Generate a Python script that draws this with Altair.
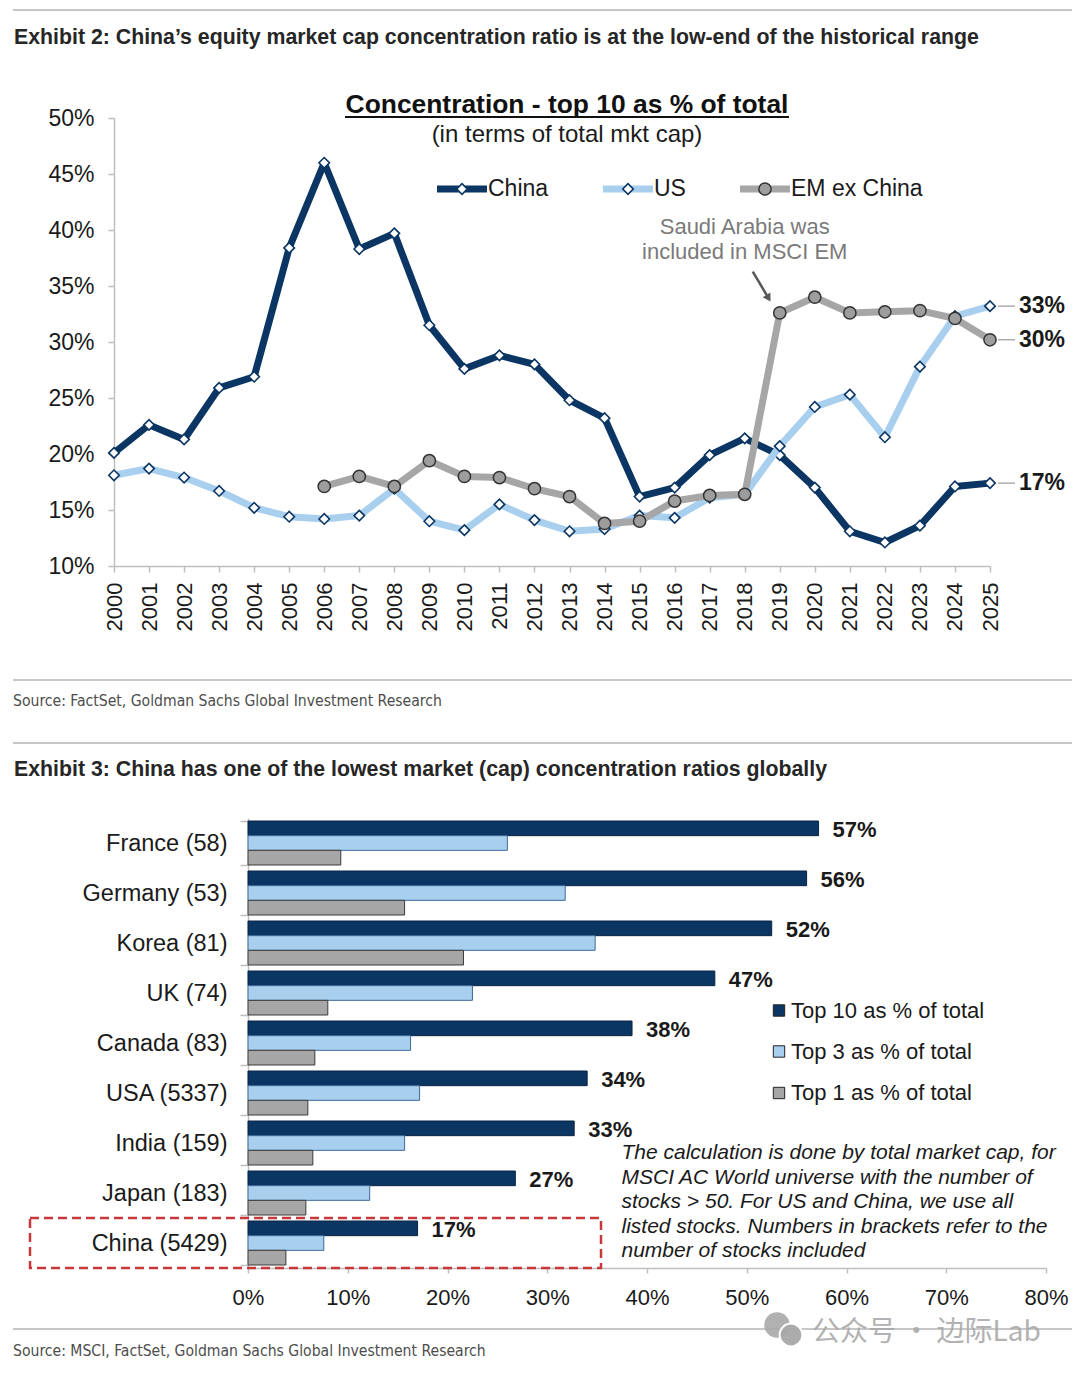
import altair as alt
import pandas as pd

# ---------------- data: Exhibit 2 ----------------
years = list(range(2000, 2026))
china = [20.1, 22.6, 21.3, 25.9, 26.9, 38.4, 46.0, 38.3, 39.7, 31.5, 27.6, 28.8, 28.0,
         24.8, 23.2, 16.2, 17.0, 19.9, 21.4, 19.9, 17.0, 13.1, 12.1, 13.6, 17.1, 17.4]
us = [18.1, 18.7, 17.9, 16.7, 15.2, 14.4, 14.2, 14.5, 16.9, 14.0, 13.2, 15.5, 14.1,
      13.1, 13.3, 14.5, 14.3, 16.1, 16.4, 20.7, 24.2, 25.3, 21.5, 27.8, 32.3, 33.2]
em_years = list(range(2006, 2026))
em = [17.1, 18.0, 17.1, 19.4, 18.0, 17.9, 16.9, 16.2, 13.8, 14.0, 15.8, 16.3, 16.4,
      32.6, 34.0, 32.6, 32.7, 32.8, 32.1, 30.2]
series_names = ["China", "US", "EM ex China"]
end_labels = ["17%", "33%", "30%"]
y_ticks_top = [10, 15, 20, 25, 30, 35, 40, 45, 50]

title2 = "Exhibit 2: China\u2019s equity market cap concentration ratio is at the low-end of the historical range"
inner_title = "Concentration - top 10 as % of total"
inner_sub = "(in terms of total mkt cap)"
annot_lines = ["Saudi Arabia was", "included in MSCI EM"]
annot_x = [2018, 2018]
annot_y = [40.3, 38.0]
arrow_from = (2018.23, 36.28)
arrow_head = (2018.68, 33.91)
source2 = "Source: FactSet, Goldman Sachs Global Investment Research"

# ---------------- data: Exhibit 3 ----------------
countries = ["France (58)", "Germany (53)", "Korea (81)", "UK (74)", "Canada (83)",
             "USA (5337)", "India (159)", "Japan (183)", "China (5429)"]
top10 = [57.2, 56.0, 52.5, 46.8, 38.5, 34.0, 32.7, 26.8, 17.0]
top3 = [26.0, 31.8, 34.8, 22.5, 16.3, 17.2, 15.7, 12.2, 7.6]
top1 = [9.3, 15.7, 21.6, 8.0, 6.7, 6.0, 6.5, 5.8, 3.8]
top10_labels = ["57%", "56%", "52%", "47%", "38%", "34%", "33%", "27%", "17%"]
bar_series = ["Top 10 as % of total", "Top 3 as % of total", "Top 1 as % of total"]
x_ticks_bar = [0, 10, 20, 30, 40, 50, 60, 70, 80]
title3 = "Exhibit 3: China has one of the lowest market (cap) concentration ratios globally"
note_lines = ["The calculation is done by total market cap, for",
              "MSCI AC World universe with the number of",
              "stocks > 50. For US and China, we use all",
              "listed stocks. Numbers in brackets refer to the",
              "number of stocks included"]
source3 = "Source: MSCI, FactSet, Goldman Sachs Global Investment Research"
watermark = "\u516c\u4f17\u53f7 \u00b7 \u8fb9\u9645Lab"

# ---------------- styles ----------------
SANS = "Liberation Sans"
COND = "DejaVu Sans Condensed"
NAVY = "#0b3562"
NAVY_D = "#0a2444"
LBLUE = "#a9cfef"
LBLUE_S = "#3b6a99"
GRAYL = "#a6a6a6"
GRAYM = "#9d9d9d"
GRAY_S = "#3a3a3a"
AX = "#bfbfbf"
TXT = "#1a1a1a"
SEP = "#b4b4b4"
RED = "#c8383a"

W1, H1 = 742, 448
W2, H2 = 798, 450

# ---------------- top chart ----------------
xscale_top = alt.Scale(domain=[2000, 2025], range=[-134, 742], nice=False, zero=False)
yscale_top = alt.Scale(domain=[10, 50], nice=False, zero=False)
xaxis_top = alt.Axis(values=years, format="d", labelAngle=270, labelFontSize=22, labelFont=SANS,
                     labelColor=TXT, tickSize=6, tickColor=AX, tickWidth=1.5, domainColor=AX,
                     domainWidth=1.5, labelPadding=10, title=None, grid=False,
                     labelOverlap=False, labelFlush=False)
yaxis_top = alt.Axis(values=y_ticks_top, labelExpr="datum.value + '%'", offset=134,
                     labelFontSize=23, labelFont=SANS, labelColor=TXT, tickSize=6, tickColor=AX,
                     tickWidth=1.5, domainColor=AX, domainWidth=1.5, labelPadding=14,
                     title=None, grid=False)


def tx(field):
    return alt.X(f"{field}:Q", scale=xscale_top, axis=xaxis_top)


def ty(field):
    return alt.Y(f"{field}:Q", scale=yscale_top, axis=yaxis_top)


china_df = pd.DataFrame({"year": years, "v": china})
us_df = pd.DataFrame({"year": years, "v": us})
em_df = pd.DataFrame({"year": em_years, "v": em})

layers_top = []


def series_layers(df, line_color, shape, fill, stroke, size, sw):
    ln = alt.Chart(df).mark_line(color=line_color, strokeWidth=7, strokeJoin="round").encode(
        x=tx("year"), y=ty("v"))
    pt = alt.Chart(df).mark_point(shape=shape, filled=True, fill=fill, stroke=stroke,
                                  strokeWidth=sw, size=size, opacity=1).encode(
        x=tx("year"), y=ty("v"))
    return [ln, pt]


layers_top += series_layers(china_df, NAVY, "diamond", "white", NAVY, 110, 1.6)
layers_top += series_layers(us_df, LBLUE, "diamond", "white", NAVY, 110, 1.6)
layers_top += series_layers(em_df, GRAYL, "circle", GRAYM, "#333333", 150, 1.5)

# end labels
end_df = pd.DataFrame({"x": [years[-1]] * 3, "y": [china[-1], us[-1], em[-1]], "t": end_labels})
layers_top.append(alt.Chart(end_df).mark_rule(color="#9a9a9a", strokeWidth=1.2, xOffset=8,
                                              x2Offset=25).encode(
    x=tx("x"), x2=alt.X2("x:Q"), y=ty("y")))
layers_top.append(alt.Chart(end_df).mark_text(align="left", baseline="middle", dx=29, font=SANS,
                                              fontSize=23, fontWeight="bold", color=TXT).encode(
    x=tx("x"), y=ty("y"), text="t:N"))

# annotation
ann_df = pd.DataFrame({"x": annot_x, "y": annot_y, "t": annot_lines})
layers_top.append(alt.Chart(ann_df).mark_text(align="center", baseline="middle", font=SANS,
                                              fontSize=22, color="#7a7a7a").encode(
    x=tx("x"), y=ty("y"), text="t:N"))
arr_df = pd.DataFrame({"x": [arrow_from[0]], "y": [arrow_from[1]],
                       "x2": [arrow_head[0]], "y2": [arrow_head[1]]})
layers_top.append(alt.Chart(arr_df).mark_rule(color="#595959", strokeWidth=2.5).encode(
    x=tx("x"), y=ty("y"), x2=alt.X2("x2:Q"), y2=alt.Y2("y2:Q")))
layers_top.append(alt.Chart(arr_df).mark_point(shape="triangle-down", filled=True, color="#595959",
                                               size=80, angle=329, opacity=1).encode(
    x=tx("x2"), y=ty("y2")))

# legend (manual, line + marker)
leg_specs = [
    (series_names[0], 189, NAVY, "diamond", "white", NAVY, 110, 1.6),
    (series_names[1], 355, LBLUE, "diamond", "white", NAVY, 110, 1.6),
    (series_names[2], 492, GRAYL, "circle", GRAYM, "#333333", 150, 1.5),
]
for name, x0, col, shp, fll, stk, sz, sw in leg_specs:
    d = pd.DataFrame({"name": [name]})
    layers_top.append(alt.Chart(d).mark_rule(color=col, strokeWidth=7).encode(
        x=alt.value(x0), x2=alt.value(x0 + 50), y=alt.value(71)))
    layers_top.append(alt.Chart(d).mark_point(shape=shp, filled=True, fill=fll, stroke=stk,
                                              strokeWidth=sw, size=sz, opacity=1).encode(
        x=alt.value(x0 + 25), y=alt.value(71)))
    layers_top.append(alt.Chart(d).mark_text(align="left", baseline="middle", font=SANS,
                                             fontSize=23, color=TXT).encode(
        x=alt.value(x0 + 51), y=alt.value(71), text="name:N"))

# titles & decorations
t_df = pd.DataFrame({"t": [title2]})
layers_top.append(alt.Chart(t_df).mark_text(align="left", baseline="middle", font=SANS,
                                            fontSize=21.3, fontWeight="bold", color="#262626").encode(
    x=alt.value(-234), y=alt.value(-80), text="t:N"))
it_df = pd.DataFrame({"t": [inner_title]})
layers_top.append(alt.Chart(it_df).mark_text(align="center", baseline="alphabetic", font=SANS,
                                             fontSize=26.4, fontWeight="bold", color="#111111").encode(
    x=alt.value(319), y=alt.value(-5), text="t:N"))
layers_top.append(alt.Chart(it_df).mark_rule(color="#111111", strokeWidth=1.8).encode(
    x=alt.value(97), x2=alt.value(541), y=alt.value(-1)))
is_df = pd.DataFrame({"t": [inner_sub]})
layers_top.append(alt.Chart(is_df).mark_text(align="center", baseline="middle", font=SANS,
                                             fontSize=24, color=TXT).encode(
    x=alt.value(319), y=alt.value(17), text="t:N"))
s2_df = pd.DataFrame({"t": [source2]})
layers_top.append(alt.Chart(s2_df).mark_text(align="left", baseline="middle", font=COND,
                                             fontSize=15.6, color="#4d4d4d").encode(
    x=alt.value(-235), y=alt.value(583), text="t:N"))
for yy in [-108, 562]:
    layers_top.append(alt.Chart(pd.DataFrame({"k": [yy]})).mark_rule(color=SEP, strokeWidth=1.5).encode(
        x=alt.value(-235), x2=alt.value(824), y=alt.value(yy)))

top = alt.layer(*layers_top).properties(width=W1, height=H1)

# ---------------- bottom chart ----------------
rows = []
for c, a, b, d in zip(countries, top10, top3, top1):
    rows += [(c, bar_series[0], a), (c, bar_series[1], b), (c, bar_series[2], d)]
bar_df = pd.DataFrame(rows, columns=["country", "series", "value"])
lab_df = pd.DataFrame({"country": countries, "series": [bar_series[0]] * len(countries),
                       "value": top10, "t": top10_labels})

yscale_bot = alt.Scale(domain=countries, paddingInner=0.12, paddingOuter=0.06)
xscale_bot = alt.Scale(domain=[0, 80], nice=False, zero=True)
yaxis_bot = alt.Axis(title=None, labelFontSize=23.5, labelFont=SANS, labelColor=TXT, tickSize=8,
                     tickBand="extent", labelPadding=13, domainColor=AX, tickColor=AX,
                     domainWidth=1.5, tickWidth=1.5, labelLimit=400)
xaxis_bot = alt.Axis(values=x_ticks_bar, labelExpr="datum.value + '%'", labelFontSize=22,
                     labelFont=SANS, labelColor=TXT, tickSize=5, labelPadding=14,
                     labelFlush=False, grid=False, title=None, domainColor=AX, tickColor=AX,
                     domainWidth=1.5, tickWidth=1.5)
yoff = alt.YOffset("series:N", sort=bar_series,
                   scale=alt.Scale(domain=bar_series, paddingInner=0, paddingOuter=0))

bars = alt.Chart(bar_df).mark_bar(strokeWidth=1).encode(
    y=alt.Y("country:N", scale=yscale_bot, axis=yaxis_bot, sort=countries),
    x=alt.X("value:Q", scale=xscale_bot, axis=xaxis_bot),
    yOffset=yoff,
    color=alt.Color("series:N", scale=alt.Scale(domain=bar_series, range=[NAVY, LBLUE, GRAYL]),
                    legend=None),
    stroke=alt.Stroke("series:N", scale=alt.Scale(domain=bar_series,
                                                  range=[NAVY_D, LBLUE_S, GRAY_S]),
                      legend=None),
)
labels = alt.Chart(lab_df).mark_text(align="left", baseline="middle", dx=14, dy=2, font=SANS,
                                     fontSize=22, fontWeight="bold", color=TXT).encode(
    y=alt.Y("country:N", scale=yscale_bot, axis=yaxis_bot, sort=countries),
    x=alt.X("value:Q", scale=xscale_bot, axis=xaxis_bot),
    yOffset=yoff,
    text="t:N",
)

layers_bot = [bars, labels]

# legend for bars (manual squares + labels)
leg_cols = [(NAVY, NAVY_D), (LBLUE, LBLUE_S), (GRAYL, GRAY_S)]
leg_y = [192.5, 233.5, 275]
for name, (fc, sc), yy in zip(bar_series, leg_cols, leg_y):
    d = pd.DataFrame({"name": [name]})
    layers_bot.append(alt.Chart(d).mark_point(shape="square", filled=True, fill=fc, stroke="#222222",
                                              strokeWidth=1, size=130, opacity=1).encode(
        x=alt.value(531), y=alt.value(yy)))
    layers_bot.append(alt.Chart(d).mark_text(align="left", baseline="middle", font=SANS,
                                             fontSize=22, color=TXT).encode(
        x=alt.value(543), y=alt.value(yy), text="name:N"))

box_df = pd.DataFrame({"k": ["China (5429)"]})
layers_bot.append(alt.Chart(box_df).mark_rect(fill="white", fillOpacity=0, stroke=RED,
                                              strokeWidth=2.5, strokeDash=[9, 5]).encode(
    x=alt.value(-218), x2=alt.value(353), y=alt.value(400), y2=alt.value(450)))
for i, line in enumerate(note_lines):
    d = pd.DataFrame({"t": [line]})
    layers_bot.append(alt.Chart(d).mark_text(align="left", baseline="middle", font=SANS,
                                             fontSize=21, fontStyle="italic", color=TXT).encode(
        x=alt.value(373.5), y=alt.value(335 + 24.5 * i), text="t:N"))
t3_df = pd.DataFrame({"t": [title3]})
layers_bot.append(alt.Chart(t3_df).mark_text(align="left", baseline="middle", font=SANS,
                                             fontSize=21.3, fontWeight="bold", color="#262626").encode(
    x=alt.value(-234), y=alt.value(-48), text="t:N"))
for yy in [-75, 511]:
    layers_bot.append(alt.Chart(pd.DataFrame({"k": [yy]})).mark_rule(color=SEP, strokeWidth=1.5).encode(
        x=alt.value(-235), x2=alt.value(824), y=alt.value(yy)))
s3_df = pd.DataFrame({"t": [source3]})
layers_bot.append(alt.Chart(s3_df).mark_text(align="left", baseline="middle", font=COND,
                                             fontSize=15.6, color="#4d4d4d").encode(
    x=alt.value(-235), y=alt.value(533), text="t:N"))
wm_df = pd.DataFrame({"t": [watermark]})
layers_bot.append(alt.Chart(wm_df).mark_point(shape="circle", filled=True, color="#a8a8a8",
                                              size=650, opacity=0.9).encode(
    x=alt.value(529), y=alt.value(507)))
layers_bot.append(alt.Chart(wm_df).mark_point(shape="circle", filled=True, color="#a8a8a8",
                                              stroke="white", strokeWidth=2, size=520,
                                              opacity=0.95).encode(
    x=alt.value(543), y=alt.value(517)))
layers_bot.append(alt.Chart(wm_df).mark_text(align="left", baseline="middle",
                                             font="Noto Sans CJK SC", fontSize=28,
                                             color="#aaaaaa", opacity=0.9).encode(
    x=alt.value(564), y=alt.value(515), text="t:N"))

bottom = alt.layer(*layers_bot).properties(width=W2, height=H2)

chart = alt.vconcat(top, bottom, spacing=252, bounds="flush").properties(
    autosize=alt.AutoSizeParams(type="none"),
    padding={"left": 240, "top": 110, "right": 824, "bottom": 1247},
).configure(font=SANS, background="white").configure_view(stroke="transparent", strokeWidth=0)

chart.save("out.html", embed_options={"renderer": "svg", "actions": False})
